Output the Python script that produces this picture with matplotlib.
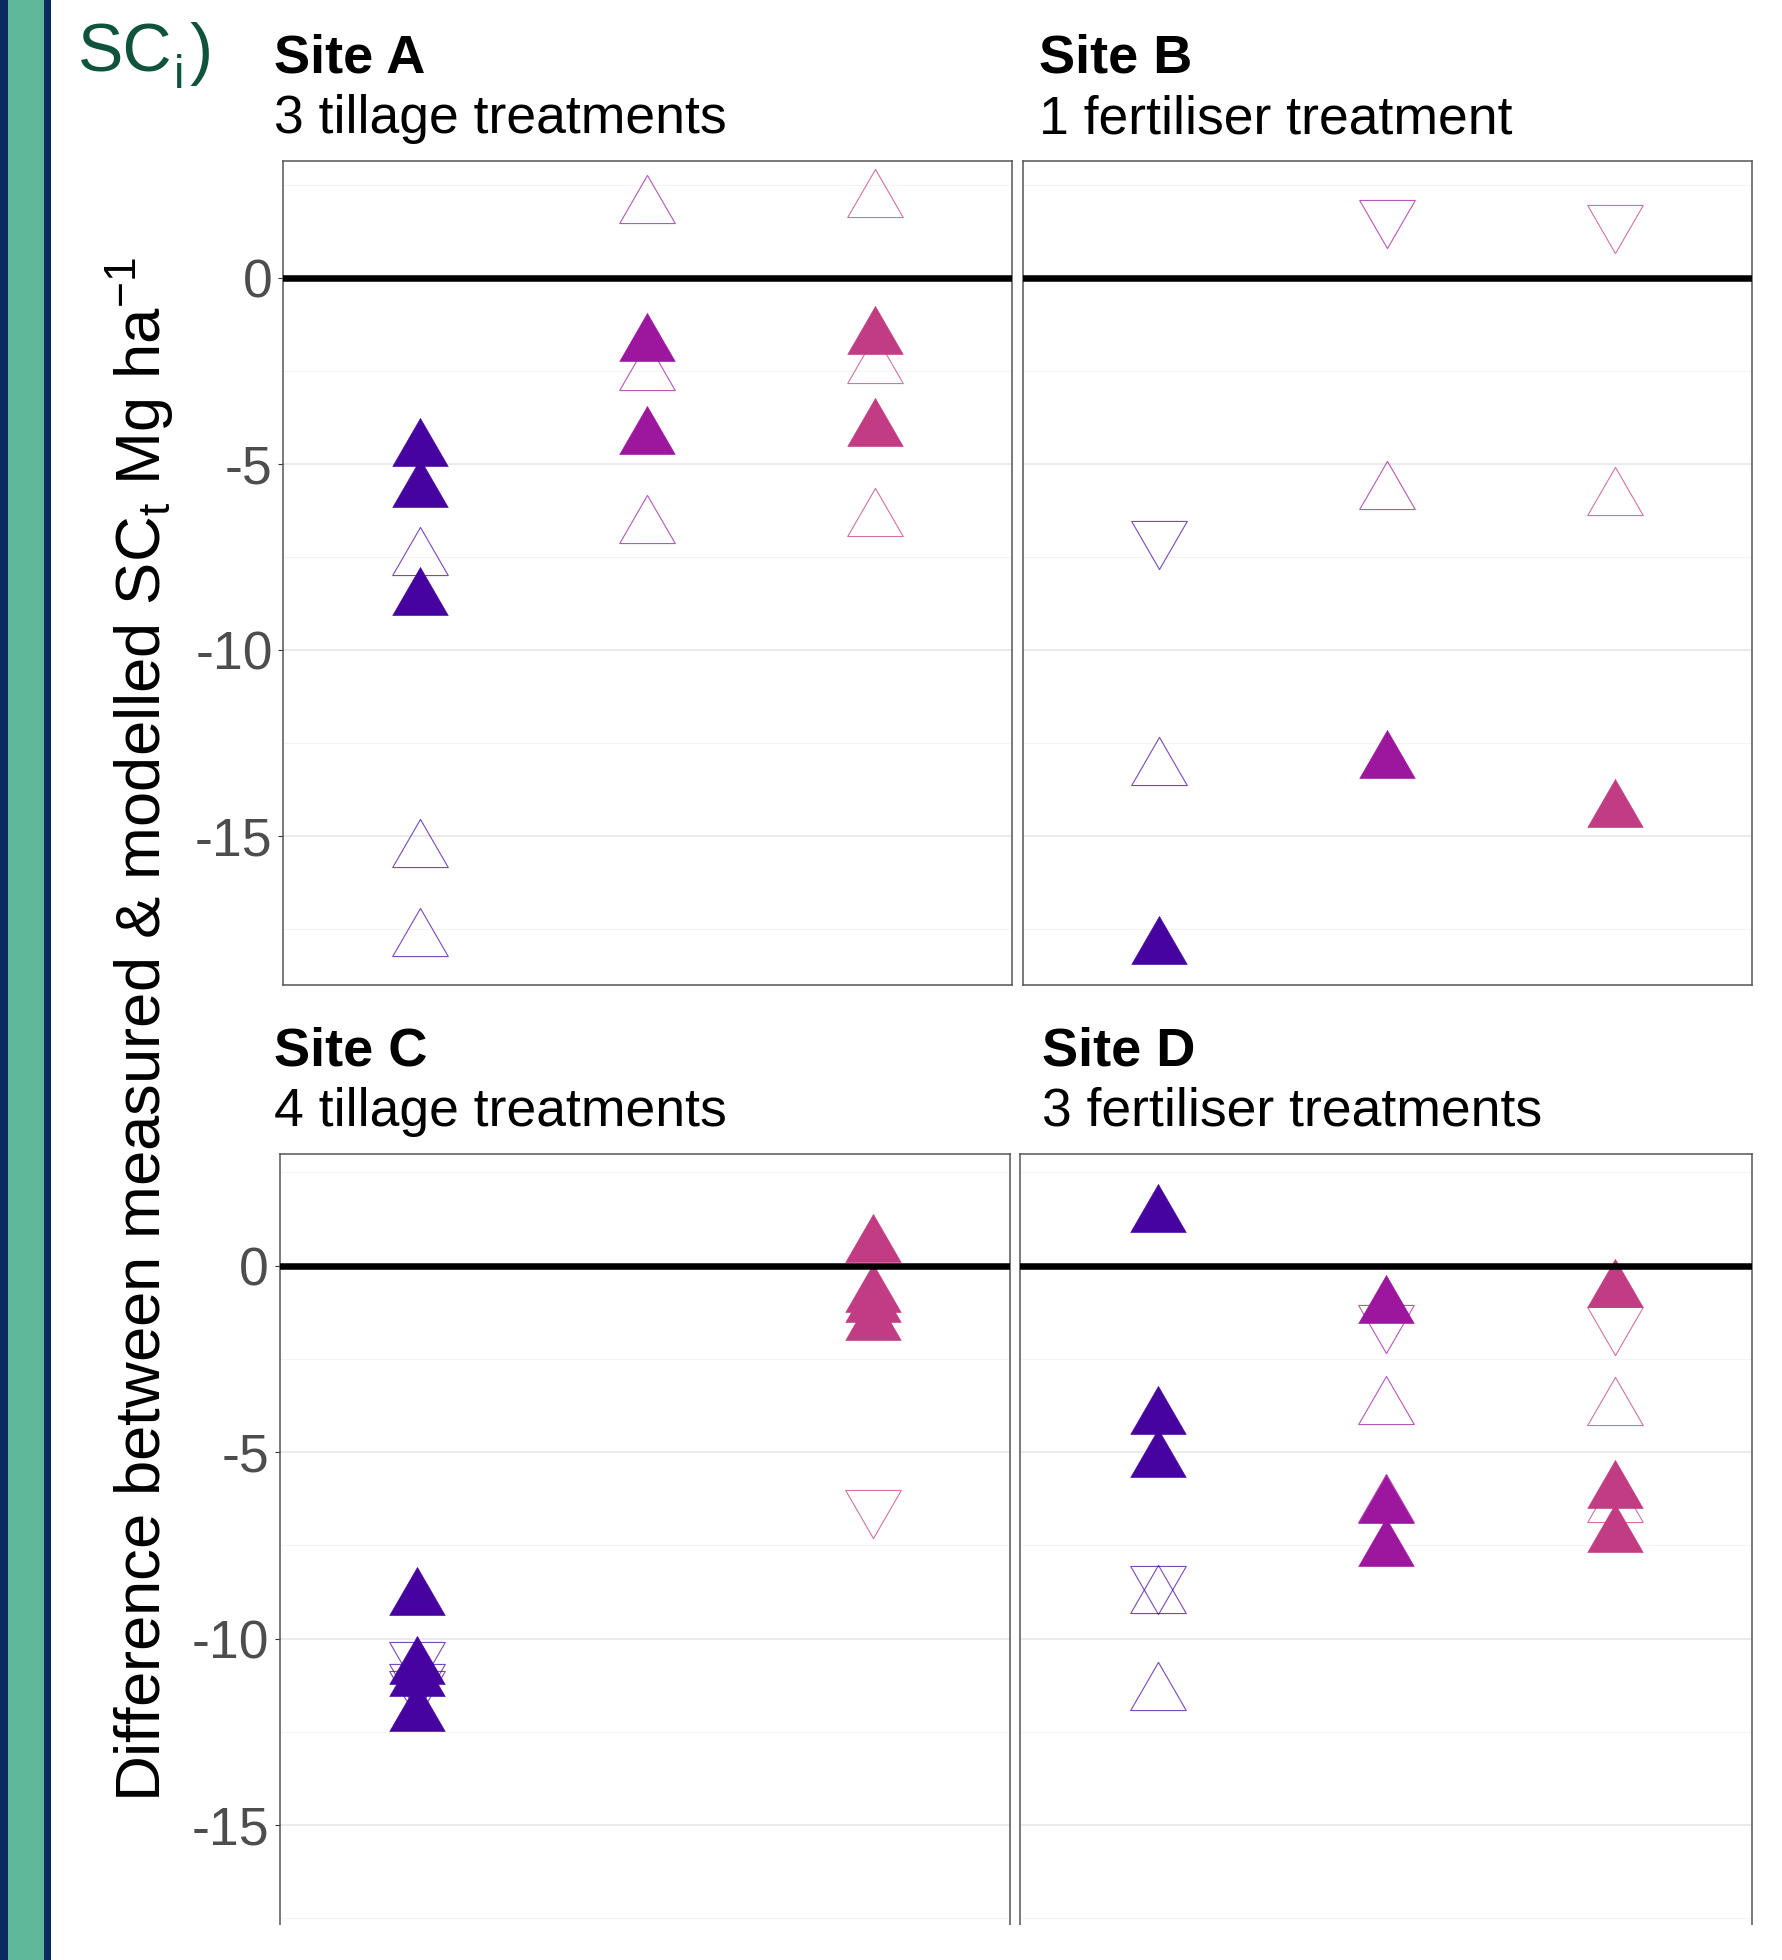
import matplotlib
matplotlib.use("Agg")
import matplotlib.pyplot as plt
from matplotlib.patches import Rectangle
from matplotlib.path import Path

plt.rcParams['font.family'] = ['Liberation Sans', 'DejaVu Sans']
plt.rcParams['mathtext.fontset'] = 'custom'
plt.rcParams['mathtext.rm'] = 'Liberation Sans'
plt.rcParams['mathtext.it'] = 'Liberation Sans:italic'
plt.rcParams['mathtext.bf'] = 'Liberation Sans:bold'

W, H, DPI = 1782, 1960, 100

# ---------------------------------------------------------------------------
# Data: difference (Mg ha-1) per site, one list per treatment group (x = 1..3)
# ---------------------------------------------------------------------------
site_titles = ["Site A", "Site B", "Site C", "Site D"]
site_subtitles = ["3 tillage treatments", "1 fertiliser treatment",
                  "4 tillage treatments", "3 fertiliser treatments"]
group_colors = ["#47039F", "#9C179E", "#C13C82"]

site_a_filled = [[-4.62, -5.72, -8.63], [-1.80, -4.30], [-1.60, -4.08]]
site_a_open_up = [[-7.56, -15.40, -17.79], [1.90, -2.58, -6.69], [2.07, -2.39, -6.51]]
site_a_open_down = [[], [], []]

site_b_filled = [[-18.01], [-13.00], [-14.34]]
site_b_open_up = [[-13.20], [-5.78], [-5.93]]
site_b_open_down = [[-6.96], [1.67], [1.53]]

site_c_filled = [[-8.93, -10.79, -11.11, -12.04], [], [0.53, -0.82, -1.08, -1.56]]
site_c_open_up = [[], [], []]
site_c_open_down = [[-10.51, -11.12, -11.29], [], [-6.45]]

site_d_filled = [[1.32, -4.09, -5.23], [-1.10, -6.47, -7.63], [-0.69, -6.08, -7.24]]
site_d_open_up = [[-8.88, -11.48], [-3.81, -6.43], [-3.84, -6.45]]
site_d_open_down = [[-8.47], [-1.49], [-1.54]]

major_ticks = [-15, -10, -5, 0]
major_labels = ["-15", "-10", "-5", "0"]
minor_ticks = [-17.5, -12.5, -7.5, -2.5, 2.5]

# R-style equilateral triangles centred on their centroid
up_path = Path([(0, 1.555), (1.347, -0.778), (-1.347, -0.778), (0, 1.555)], closed=True)
down_path = Path([(0, -1.555), (1.347, 0.778), (-1.347, 0.778), (0, -1.555)], closed=True)
MS = 46.2


def px_rect(left, right, top, bottom):
    return [left / W, 1 - bottom / H, (right - left) / W, (bottom - top) / H]


fig = plt.figure(figsize=(W / DPI, H / DPI), dpi=DPI)
fig.patch.set_facecolor('white')

panels = [
    (px_rect(283.2, 1011.7, 160.8, 984.8), (-19.0, 3.15), True,
     site_a_filled, site_a_open_up, site_a_open_down, (274.5, 72.7)),
    (px_rect(1022.5, 1751.6, 160.8, 984.8), (-19.0, 3.15), False,
     site_b_filled, site_b_open_up, site_b_open_down, (1039, 72.7)),
    (px_rect(279.6, 1010.2, 1153.8, 1974.4), (-19.0, 3.0), True,
     site_c_filled, site_c_open_up, site_c_open_down, (274.5, 1065.4)),
    (px_rect(1020.4, 1751.6, 1153.8, 1974.4), (-19.0, 3.0), False,
     site_d_filled, site_d_open_up, site_d_open_down, (1042, 1065.4)),
]

for k, (rect, ylim, show_y, filled, open_up, open_down, title_xy) in enumerate(panels):
    ax = fig.add_axes(rect)
    ax.set_xlim(0.4, 3.6)
    ax.set_ylim(*ylim)
    ax.set_xticks([])
    ax.set_yticks(major_ticks)
    ax.set_yticks(minor_ticks, minor=True)
    ax.grid(which='major', axis='y', color='#EBEBEB', lw=1.4)
    ax.grid(which='minor', axis='y', color='#F4F4F4', lw=0.8)
    ax.set_axisbelow(True)
    if show_y:
        ax.set_yticklabels(major_labels)
        ax.tick_params(axis='y', which='major', length=3.3, width=0.8, color='#333333',
                       pad=4.3, labelsize=38.5, labelcolor='#4D4D4D')
    else:
        ax.set_yticklabels([])
        ax.tick_params(axis='y', which='major', length=0)
    ax.tick_params(axis='y', which='minor', length=0)
    for sp in ax.spines.values():
        sp.set_color('#555555')
        sp.set_linewidth(1.1)

    for g, color in enumerate(group_colors):
        x = g + 1
        if open_up[g]:
            ax.plot([x] * len(open_up[g]), open_up[g], ls='none', marker=up_path, ms=MS,
                    mfc='none', mec=color, mew=0.8, alpha=0.72, zorder=3)
        if open_down[g]:
            ax.plot([x] * len(open_down[g]), open_down[g], ls='none', marker=down_path, ms=MS,
                    mfc='none', mec=color, mew=0.8, alpha=0.72, zorder=3)
        if filled[g]:
            ax.plot([x] * len(filled[g]), filled[g], ls='none', marker=up_path, ms=MS,
                    mfc=color, mec=color, mew=0.4, zorder=4)

    ax.axhline(0, color='black', lw=4.7, zorder=5)

    tx, ty = title_xy
    fig.text(tx / W, 1 - ty / H, site_titles[k], fontsize=39, fontweight='bold',
             va='baseline', ha='left')
    fig.text(tx / W, 1 - (ty + 60.6) / H, site_subtitles[k], fontsize=38.5,
             va='baseline', ha='left')

# the lower panels are cut off a little above the page edge
fig.add_artist(Rectangle((55 / W, 0), 1, 35 / H, transform=fig.transFigure,
                         facecolor='white', edgecolor='none', zorder=10))

# poster side strip
fig.add_artist(Rectangle((0, 0), 51 / W, 1, transform=fig.transFigure,
                         facecolor='#0B2B5E', edgecolor='none', zorder=11))
fig.add_artist(Rectangle((7.5 / W, 0), 36 / W, 1, transform=fig.transFigure,
                         facecolor='#5FB899', edgecolor='none', zorder=12))

# "SC_i)" heading fragment, pieces placed separately for a larger subscript
head_color = '#0F533D'
fig.text(78 / W, 1 - 71.7 / H, "SC", fontsize=49, color=head_color,
         va='baseline', ha='left')
fig.text(174 / W, 1 - 88 / H, "i", fontsize=34, color=head_color,
         va='baseline', ha='left')
fig.text(190 / W, 1 - 71.7 / H, ")", fontsize=50, color=head_color,
         va='baseline', ha='left')

fig.text(140 / W, 1 - 1029 / H,
         r"Difference between measured & modelled SC$_\mathregular{t}$ Mg ha$^\mathregular{-1}$",
         rotation=90, fontsize=45.6, ha='center', va='center')

fig.savefig("out.png", dpi=DPI)
